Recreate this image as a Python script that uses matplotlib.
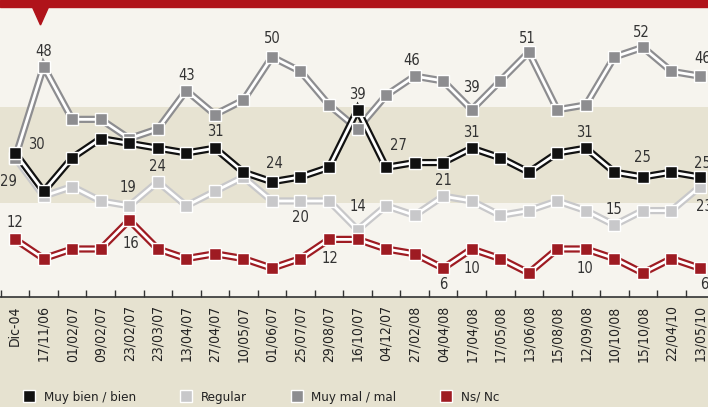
import numpy as np
import matplotlib.pyplot as plt
from matplotlib.patches import Rectangle, Polygon
from matplotlib.lines import Line2D

# --- data ---
fechas = ["Dic-04", "17/11/06", "01/02/07", "09/02/07", "23/02/07", "23/03/07",
          "13/04/07", "27/04/07", "10/05/07", "01/06/07", "25/07/07", "29/08/07",
          "16/10/07", "04/12/07", "27/02/08", "04/04/08", "17/04/08", "17/05/08",
          "13/06/08", "15/08/08", "12/09/08", "10/10/08", "15/10/08", "22/04/10",
          "13/05/10"]

muy_bien = [30, 22, 29, 33, 32, 31, 30, 31, 26, 24, 25, 27, 39, 27, 28, 28,
            31, 29, 26, 30, 31, 26, 25, 26, 25]
regular = [29, 21, 23, 20, 19, 24, 19, 22, 25, 20, 20, 20, 14, 19, 17, 21,
           20, 17, 18, 20, 18, 15, 18, 18, 23]
muy_mal = [29, 48, 37, 37, 33, 35, 43, 38, 41, 50, 47, 40, 35, 42, 46, 45,
           39, 45, 51, 39, 40, 50, 52, 47, 46]
ns_nc = [12, 8, 10, 10, 16, 10, 8, 9, 8, 6, 8, 12, 12, 10, 9, 6,
         10, 8, 5, 10, 10, 8, 5, 8, 6]

# value labels: (serie, indice, desplazamiento en pt)
etiquetas = [
    ("muy_mal", 1, (0, 11)), ("muy_bien", 0, (15, 6)), ("regular", 0, (-5, -17)),
    ("muy_mal", 6, (0, 11)), ("muy_bien", 7, (0, 12)), ("regular", 5, (0, 11)),
    ("regular", 4, (-1, 13)), ("ns_nc", 0, (0, 12)), ("ns_nc", 4, (1, -17)),
    ("muy_mal", 9, (0, 13)), ("muy_bien", 9, (2, 13)), ("regular", 10, (0, -12)),
    ("ns_nc", 11, (1, -14)), ("regular", 12, (0, 17)), ("muy_bien", 12, (0, 11)),
    ("muy_bien", 13, (9, 16)), ("muy_mal", 14, (-2, 11)), ("regular", 15, (0, 11)),
    ("ns_nc", 15, (0, -12)), ("muy_mal", 16, (0, 16)), ("muy_bien", 16, (0, 11)),
    ("ns_nc", 16, (0, -14)), ("muy_mal", 18, (-1, 10)), ("muy_bien", 20, (-1, 11)),
    ("ns_nc", 20, (-1, -14)), ("regular", 21, (0, 11)), ("muy_mal", 22, (-1, 11)),
    ("muy_bien", 22, (0, 14)), ("muy_mal", 24, (2, 13)), ("muy_bien", 24, (2, 10)),
    ("regular", 24, (3, -14)), ("ns_nc", 24, (3, -12)),
]

series = {"muy_bien": muy_bien, "regular": regular, "muy_mal": muy_mal, "ns_nc": ns_nc}
colores = {"muy_bien": "#111111", "regular": "#c8c8ca", "muy_mal": "#8d8d90", "ns_nc": "#9e1b22"}
nombres = {"muy_bien": "Muy bien / bien", "regular": "Regular",
           "muy_mal": "Muy mal / mal", "ns_nc": "Ns/ Nc"}

plt.rcParams["font.family"] = ["Liberation Sans Narrow", "DejaVu Sans"]
plt.rcParams["font.stretch"] = "condensed"

W, H = 708, 407
fig = plt.figure(figsize=(W / 100, H / 100), dpi=100)
fig.patch.set_facecolor("#e6e2d0")

ax = fig.add_axes([0, 1 - 297 / H, 1, 290 / H])
ax.set_facecolor("#f6f4ee")
x = np.arange(len(fechas))
ax.set_xlim(-0.53, len(fechas) - 1 + 0.28)
ax.set_ylim(0, 60.4)
ax.axhspan(19.6, 39.6, color="#e7e3d2", zorder=0, lw=0)

for key in ["regular", "muy_mal", "ns_nc", "muy_bien"]:
    c = colores[key]
    ax.plot(x, series[key], color=c, lw=5.2, solid_joinstyle="miter", zorder=2)
    ax.plot(x, series[key], color="white", lw=2.0, zorder=2)
    ax.plot(x, series[key], ls="none", marker="s", ms=8, mfc=c, mec="white", mew=1, zorder=3)

for key, i, off in etiquetas:
    ax.annotate(str(series[key][i]), (i, series[key][i]), xytext=off,
                textcoords="offset points", ha="center", va="center",
                fontsize=10.5, color="#333333", zorder=4)

ax.set_xticks(x)
ax.set_xticklabels(fechas, rotation=90, fontsize=10, color="#222222")
ax.set_xticks(np.arange(-0.5, len(fechas) - 0.5, 1), minor=True)
ax.tick_params(axis="x", which="major", length=0, pad=6)
ax.tick_params(axis="x", which="minor", direction="in", length=5, width=1, color="#333333")
ax.set_yticks([])
for s in ["top", "left", "right"]:
    ax.spines[s].set_visible(False)
ax.spines["bottom"].set_color("#333333")
ax.spines["bottom"].set_linewidth(1.2)

# franja roja superior y triangulo
fig.patches.append(Rectangle((0, 1 - 7 / H), 1, 7 / H, transform=fig.transFigure,
                             color="#b0131a", zorder=5))
fig.patches.append(Polygon([(32 / W, 1 - 6 / H), (49 / W, 1 - 6 / H), (40.5 / W, 1 - 25 / H)],
                           closed=True, transform=fig.transFigure, color="#b0131a", zorder=5))

orden = ["muy_bien", "regular", "muy_mal", "ns_nc"]
handles = [Line2D([], [], ls="none", marker="s", ms=8, mfc=colores[k], mec="white", mew=1)
           for k in orden]
fig.legend(handles, [nombres[k] for k in orden],
           loc="center left", bbox_to_anchor=(0.015, 10 / H), ncol=4, frameon=False,
           fontsize=9.5, handlelength=1, handletextpad=0.6, columnspacing=3.3,
           labelcolor="#222222")

fig.savefig("out.png", dpi=100, facecolor=fig.get_facecolor())
